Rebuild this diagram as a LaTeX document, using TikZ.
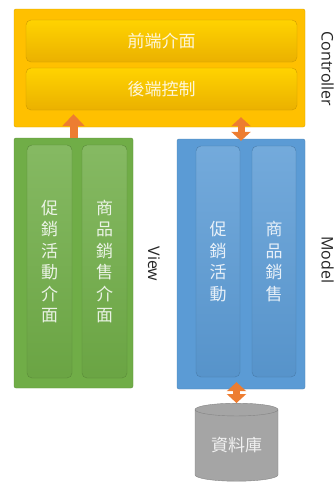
\documentclass[tikz,border=0pt]{standalone}
\usepackage{fontspec}
\setsansfont{Open Sans}
\newfontfamily\cjk{Noto Sans CJK TC}
\usetikzlibrary{arrows.meta, shapes.geometric}

\definecolor{ctrlgold}{HTML}{FFC000}
\definecolor{viewgreen}{HTML}{70AD47}
\definecolor{modelblue}{HTML}{5B9BD5}
\definecolor{linkorange}{HTML}{ED7D31}
\definecolor{dbgray}{HTML}{A5A5A5}

\tikzset{
  outerbox/.style={rectangle, rounded corners=2pt, inner sep=0pt},
  barbox/.style={rectangle, rounded corners=5pt, inner sep=0pt,
    text=white, text opacity=0.85, font=\cjk\fontsize{17}{21.5}\selectfont},
  colbox/.style={barbox, align=center, text width=18pt},
  layername/.style={font=\sffamily\fontsize{16}{16}\selectfont, text=black!85, rotate=-90},
  uplink/.style={line width=8pt, linkorange,
    -{Triangle[width=22pt, length=12pt]}},
  bothlink/.style={line width=7pt, linkorange,
    {Triangle[width=19pt, length=9pt]}-{Triangle[width=19pt, length=9pt]}}
}

\begin{document}
\begin{tikzpicture}[x=1pt, y=-1pt]
\useasboundingbox (0,0) rectangle (336,482);

% Controller layer
\node[outerbox, fill=ctrlgold, draw=ctrlgold!85!black, minimum width=291pt, minimum height=118pt] (ctrl) at (159.5,68) {};
\node[barbox, top color=ctrlgold!70!yellow, bottom color=ctrlgold!92!black, draw=ctrlgold!80!black, minimum width=271pt, minimum height=42pt] (front) at (161.5,41) {前端介面};
\node[barbox, top color=ctrlgold!70!yellow, bottom color=ctrlgold!92!black, draw=ctrlgold!80!black, minimum width=271pt, minimum height=42pt] (back) at (161.5,89) {後端控制};
\node[layername] (ctrllabel) at (327.5,69) {Controller};

% View layer
\node[outerbox, fill=viewgreen, draw=viewgreen!85!black, minimum width=119pt, minimum height=250pt] (view) at (73.5,263) {};
\node[colbox, top color=viewgreen!85!white, bottom color=viewgreen!95!black, draw=viewgreen!80!black, minimum width=45pt, minimum height=233pt] (viewpromo) at (49.5,261.5) {促\\銷\\活\\動\\介\\面};
\node[colbox, top color=viewgreen!85!white, bottom color=viewgreen!95!black, draw=viewgreen!80!black, minimum width=45pt, minimum height=233pt] (viewsales) at (104.5,261.5) {商\\品\\銷\\售\\介\\面};
\node[layername] (viewlabel) at (154,264) {View};

% Model layer
\node[outerbox, fill=modelblue, draw=modelblue!85!black, minimum width=128pt, minimum height=250pt] (model) at (241,264) {};
\node[colbox, top color=modelblue!85!white, bottom color=modelblue!95!black, draw=modelblue!80!black, minimum width=44pt, minimum height=231pt] (modelpromo) at (218,261.5) {促\\銷\\活\\動};
\node[colbox, top color=modelblue!85!white, bottom color=modelblue!95!black, draw=modelblue!80!black, minimum width=44pt, minimum height=231pt] (modelsales) at (274,261.5) {商\\品\\銷\\售};
\node[layername] (modellabel) at (327.5,260) {Model};

% Database
\node[cylinder, shape border rotate=90, aspect=0.25, draw=dbgray!80!black, fill=dbgray,
  minimum width=83pt, minimum height=78pt, inner sep=0pt,
  text=white, text opacity=0.85, font=\cjk\fontsize{17}{17}\selectfont] (db) at (236.5,445.5) {資料庫};

% Links between layers
\draw[uplink] (view.north) -- ([yshift=13pt]view.north |- ctrl.south);
\draw[bothlink] ([yshift=-2pt]model.north) -- ([yshift=10pt]model.north |- ctrl.south);
\draw[bothlink] ([yshift=7pt]db.north |- model.south) -- (db.north);
\end{tikzpicture}
\end{document}
